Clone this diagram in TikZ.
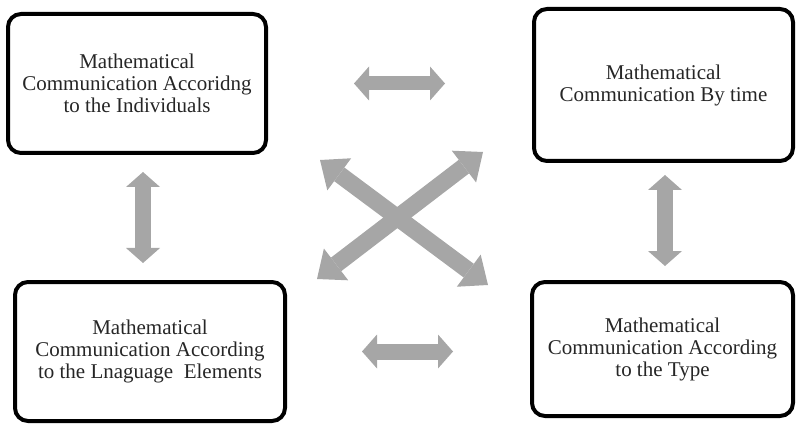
\documentclass[tikz,border=0pt]{standalone}
\usepackage{fontspec}
\setmainfont{Liberation Serif}
\usetikzlibrary{arrows.meta}

\begin{document}
\begin{tikzpicture}[x=1pt, y=-1pt,
		box/.style={draw=black, line width=4pt, rounded corners=13pt, align=center, text=black!85, inner sep=0pt, font=\fontsize{21}{22}\selectfont},
		fat/.style={draw=black!35, line width=16pt, {Triangle[width=34pt,length=15pt,line width=0pt]}-{Triangle[width=34pt,length=15pt,line width=0pt]}},
		bigfat/.style={fat, line width=17pt, {Triangle[width=40pt,length=24pt,line width=0pt]}-{Triangle[width=40pt,length=24pt,line width=0pt]}}]
				\useasboundingbox (0,0) rectangle (796,425);
				\begin{scope}
					\node[box, minimum width=258, minimum height=139] (indiv) at (137, 83.5) {Mathematical\\Communication Accoridng\\to the Individuals};
					\node[box, minimum width=259, minimum height=152] (time) at (663.5, 85) {Mathematical\\Communication By time};
					\node[box, minimum width=270, minimum height=139] (lang) at (150, 351.5) {Mathematical\\Communication According\\to the Lnaguage~ Elements};
					\node[box, minimum width=261, minimum height=134] (type) at (662.5, 349) {Mathematical\\Communication According\\to the Type};

					\draw[fat, line width=14pt, shorten <=86pt, shorten >=87pt] (indiv.east) -- (indiv.east -| time.west); % top
					\draw[fat, shorten <=75pt, shorten >=77pt] (lang.east) -- (lang.east -| type.west); % bottom
					\draw[fat, shorten <=17pt, shorten >=17pt] ([xshift=6]indiv.south) -- ([xshift=-7]lang.north); % left
					\draw[fat, shorten <=12pt, shorten >=14pt] ([xshift=1.5]time.south) -- ([xshift=2.5]type.north); % right

					\draw[bigfat] ([shift={(52,5)}]indiv.south east) -- ([shift={(-42,5)}]type.north west); % cross, down
					\draw[bigfat] ([shift={(30,-1)}]lang.north east) -- ([shift={(-49,-11)}]time.south west); % cross, up
				\end{scope}
			\end{tikzpicture}
\end{document}
